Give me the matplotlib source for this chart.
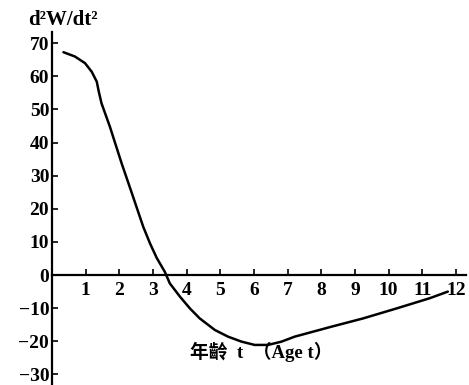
import matplotlib.pyplot as plt

# 讀圖得到的曲線點 (年齡 t, d²W/dt²)
age = [0.34, 0.68, 0.98, 1.18, 1.33, 1.39, 1.47, 1.72, 2.07, 2.37, 2.71, 2.91,
       3.11, 3.35, 3.5, 3.8, 4.1, 4.39, 4.84, 5.23, 5.63, 6.02, 6.42, 6.82,
       7.21, 8.3, 9.24, 10.23, 11.22, 11.76]
d2w = [67.3, 66.0, 64.0, 61.4, 58.4, 55.4, 51.9, 44.8, 33.7, 24.8, 14.6, 9.6,
       5.2, 1.0, -2.5, -6.5, -10.1, -13.1, -16.6, -18.6, -20.1, -21.1, -21.1, -20.1,
       -18.6, -15.6, -13.1, -10.1, -7.0, -5.0]

x_ticks = list(range(1, 13))
y_ticks = [-30, -20, -10, 0, 10, 20, 30, 40, 50, 60, 70]
y_labels = ["−30", "−20", "−10", "0", "10", "20", "30", "40", "50", "60", "70"]

serif = ["Liberation Serif", "DejaVu Serif"]
mixed = ["Liberation Serif", "Noto Sans CJK TC"]

fig = plt.figure(figsize=(4.69, 3.85), dpi=100)
ax = fig.add_axes([52 / 469, 0.0, (466 - 52) / 469, (385 - 32) / 385])

ax.plot(age, d2w, color="black", lw=1.8, solid_capstyle="round", solid_joinstyle="round")

ax.set_xlim(0, 12.3)
ax.set_ylim(-33.2, 73.4)

for side in ["top", "right"]:
    ax.spines[side].set_visible(False)
ax.spines["bottom"].set_position(("data", 0))
ax.spines["left"].set_linewidth(1.6)
ax.spines["bottom"].set_linewidth(1.6)

ax.set_xticks(x_ticks)
ax.set_xticklabels([str(v) for v in x_ticks], fontfamily=serif, fontsize=14, fontweight="bold")
ax.set_yticks(y_ticks)
ax.set_yticklabels(y_labels, fontfamily=serif, fontsize=14, fontweight="bold")
ax.tick_params(axis="x", direction="in", length=4, width=1.2, pad=5)
ax.tick_params(axis="y", direction="in", length=4, width=1.2, pad=2)

fig.text(63 / 469, 1 - 20 / 385, "d²W/dt²", ha="center", va="center",
         fontfamily=serif, fontsize=15, fontweight="bold")
fig.text(261 / 469, 1 - 352 / 385, "年齡  t  （Age t）", ha="center", va="center",
         fontfamily=mixed, fontsize=13.5, fontweight="bold")

fig.savefig("out.png", dpi=100)
